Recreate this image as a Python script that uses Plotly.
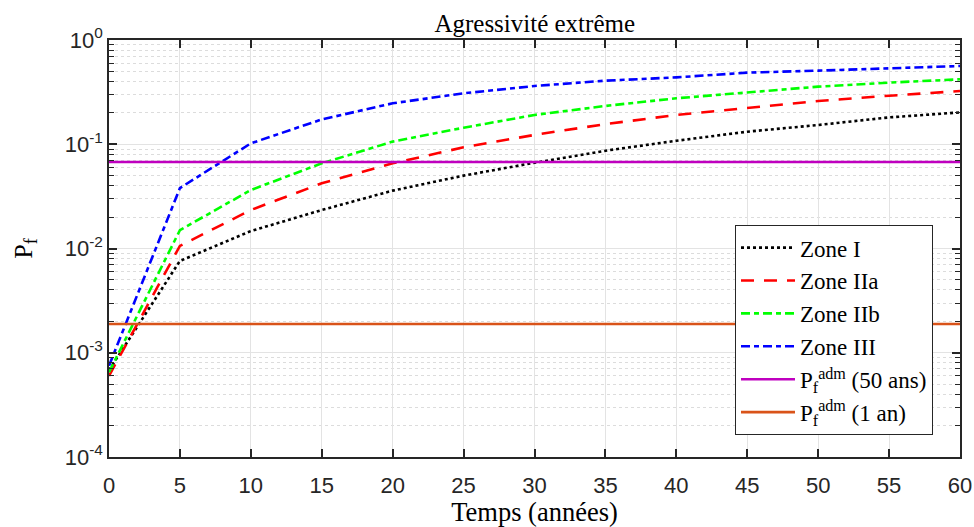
import plotly.graph_objects as go

years = [0, 5, 10, 15, 20, 25, 30, 35, 40, 45, 50, 55, 60]
zone_I = [0.00068, 0.0076, 0.0147, 0.0234, 0.0359, 0.050, 0.0665, 0.0867, 0.108, 0.132, 0.153, 0.181, 0.202]
zone_IIa = [0.00060, 0.0106, 0.0234, 0.0422, 0.0656, 0.0934, 0.123, 0.156, 0.191, 0.224, 0.260, 0.292, 0.324]
zone_IIb = [0.00065, 0.0150, 0.0364, 0.0656, 0.106, 0.144, 0.191, 0.233, 0.276, 0.315, 0.357, 0.390, 0.420]
zone_III = [0.00075, 0.038, 0.102, 0.173, 0.247, 0.308, 0.362, 0.407, 0.438, 0.486, 0.508, 0.535, 0.563]
pf_adm_50 = 0.0676
pf_adm_1 = 0.00189

x_ticks = [0, 5, 10, 15, 20, 25, 30, 35, 40, 45, 50, 55, 60]
y_ticks = [1e-4, 1e-3, 1e-2, 1e-1, 1e0]
y_ticktext = ["10<sup>-4</sup>", "10<sup>-3</sup>", "10<sup>-2</sup>", "10<sup>-1</sup>", "10<sup>0</sup>"]

serif = "Liberation Serif"
sans = "Liberation Sans"

fig = go.Figure()
fig.add_trace(go.Scatter(x=years, y=zone_I, mode="lines", name="Zone I",
                         line=dict(color="#000000", width=2.6, dash="dot")))
fig.add_trace(go.Scatter(x=years, y=zone_IIa, mode="lines", name="Zone IIa",
                         line=dict(color="#ff0000", width=2.6, dash="13px,10px")))
fig.add_trace(go.Scatter(x=years, y=zone_IIb, mode="lines", name="Zone IIb",
                         line=dict(color="#00ff00", width=2.6, dash="9px,4px,5px,4px")))
fig.add_trace(go.Scatter(x=years, y=zone_III, mode="lines", name="Zone III",
                         line=dict(color="#0000ff", width=2.6, dash="9px,4px,5px,4px")))
fig.add_trace(go.Scatter(x=[years[0], years[-1]], y=[pf_adm_50, pf_adm_50], mode="lines",
                         name="P<sub>f</sub><sup>adm</sup> (50 ans)",
                         line=dict(color="#bf00bf", width=2.6)))
fig.add_trace(go.Scatter(x=[years[0], years[-1]], y=[pf_adm_1, pf_adm_1], mode="lines",
                         name="P<sub>f</sub><sup>adm</sup> (1 an)",
                         line=dict(color="#d95319", width=2.6)))

fig.update_layout(
    width=974, height=527,
    margin=dict(l=109, r=14, t=40, b=70, autoexpand=False),
    paper_bgcolor="white", plot_bgcolor="white",
    title=dict(text="Agressivité extrême", x=0.549, xanchor="center", y=0.955, yanchor="middle",
               font=dict(family=serif, size=25, color="#000000")),
    legend=dict(x=0.7356, y=0.556, xanchor="left", yanchor="top",
                bgcolor="white", bordercolor="#262626", borderwidth=1,
                font=dict(family=serif, size=23, color="#000000"),
                tracegroupgap=0, itemwidth=54),
    showlegend=True,
)

fig.update_xaxes(
    range=[0, 60], tickmode="array", tickvals=x_ticks, automargin=False,
    ticks="inside", ticklen=8, tickwidth=1.5, tickcolor="#262626",
    showline=True, linecolor="#262626", linewidth=1.5, mirror="ticks",
    showgrid=True, gridcolor="#e3e3e3", gridwidth=1, zeroline=False,
    tickfont=dict(family=sans, size=22, color="#262626"), ticklabelstandoff=8,
    title=dict(text="Temps (années)", font=dict(family=serif, size=26.5, color="#000000"), standoff=4),
)
fig.update_yaxes(
    type="log", range=[-4, 0], tickmode="array", tickvals=y_ticks, ticktext=y_ticktext,
    automargin=False,
    ticks="inside", ticklen=8, tickwidth=1.5, tickcolor="#262626",
    showline=True, linecolor="#262626", linewidth=1.5, mirror="ticks",
    showgrid=True, gridcolor="#e3e3e3", gridwidth=1, zeroline=False,
    tickfont=dict(family=sans, size=22, color="#262626"),
    minor=dict(dtick="D1", ticks="inside", ticklen=5, tickcolor="#262626", tickwidth=1.2,
               showgrid=True, gridcolor="#dcdcdc", griddash="dot", gridwidth=1),
    title=dict(text="P<sub>f</sub>", font=dict(family=serif, size=26, color="#000000"), standoff=25),
)

fig.write_html("out.html", config={"displayModeBar": False},
               post_script="document.body.style.margin='0';document.body.style.padding='0';")
